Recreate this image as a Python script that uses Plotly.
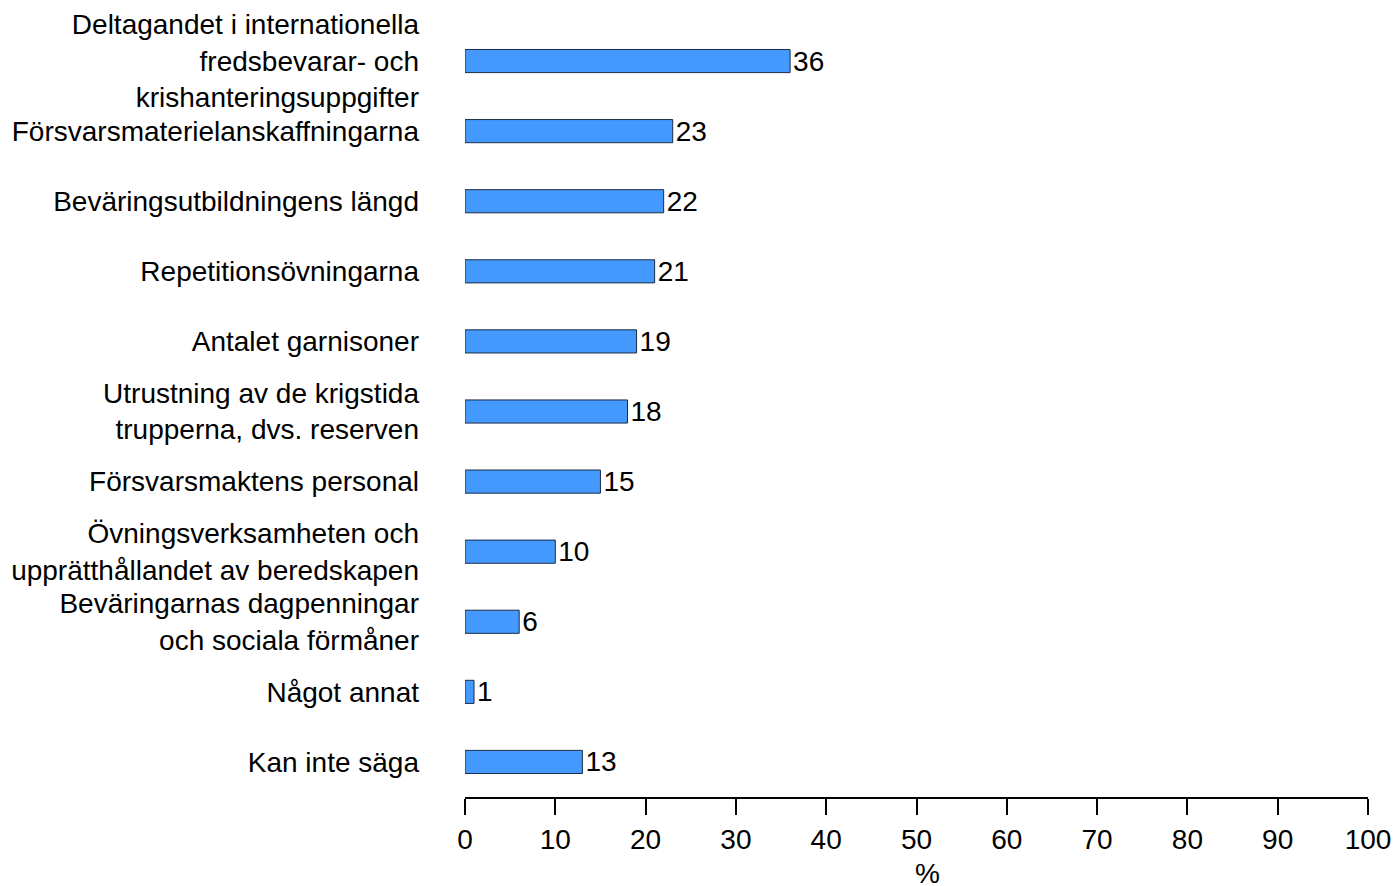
import plotly.graph_objects as go

categories = [
    "Deltagandet i internationella<br>fredsbevarar- och<br>krishanteringsuppgifter",
    "Försvarsmaterielanskaffningarna",
    "Beväringsutbildningens längd",
    "Repetitionsövningarna",
    "Antalet garnisoner",
    "Utrustning av de krigstida<br>trupperna, dvs. reserven",
    "Försvarsmaktens personal",
    "Övningsverksamheten och<br>upprätthållandet av beredskapen",
    "Beväringarnas dagpenningar<br>och sociala förmåner",
    "Något annat",
    "Kan inte säga",
]
values = [36, 23, 22, 21, 19, 18, 15, 10, 6, 1, 13]
x_ticks = [0, 10, 20, 30, 40, 50, 60, 70, 80, 90, 100]

FONT = "Liberation Sans, Arial, sans-serif"
FS = 28

fig = go.Figure(
    go.Bar(
        y=categories,
        x=values,
        orientation="h",
        marker=dict(color="#4499FF", line=dict(color="#1B2B44", width=1)),
        text=[str(v) for v in values],
        textposition="outside",
        constraintext="none",
        textfont=dict(family=FONT, size=FS, color="black"),
        cliponaxis=False,
    )
)

fig.update_layout(
    width=1396,
    height=886,
    margin=dict(l=465, r=28, t=26, b=89),
    paper_bgcolor="white",
    plot_bgcolor="white",
    bargap=0.67,
    showlegend=False,
    font=dict(family=FONT, size=FS, color="black"),
)

fig.update_xaxes(
    range=[0, 100],
    tickvals=x_ticks,
    ticktext=[str(t) for t in x_ticks],
    showgrid=False,
    zeroline=False,
    showline=True,
    linecolor="black",
    linewidth=2,
    ticks="outside",
    ticklen=16,
    tickwidth=1.5,
    tickcolor="black",
    tickfont=dict(family=FONT, size=FS, color="black"),
    automargin=False,
)

fig.update_yaxes(
    autorange="reversed",
    showgrid=False,
    zeroline=False,
    showline=False,
    ticks="",
    ticklabelstandoff=45,
    tickfont=dict(family=FONT, size=FS, color="black"),
    automargin=False,
)

# x-axis title "%"
fig.add_annotation(
    text="%",
    xref="paper", yref="paper",
    x=0.512, y=-0.099,
    xanchor="center", yanchor="middle",
    showarrow=False,
    font=dict(family=FONT, size=FS, color="black"),
)

fig.write_html(
    "out.html",
    config={"displayModeBar": False},
    post_script="document.body.style.margin='0';",
)
